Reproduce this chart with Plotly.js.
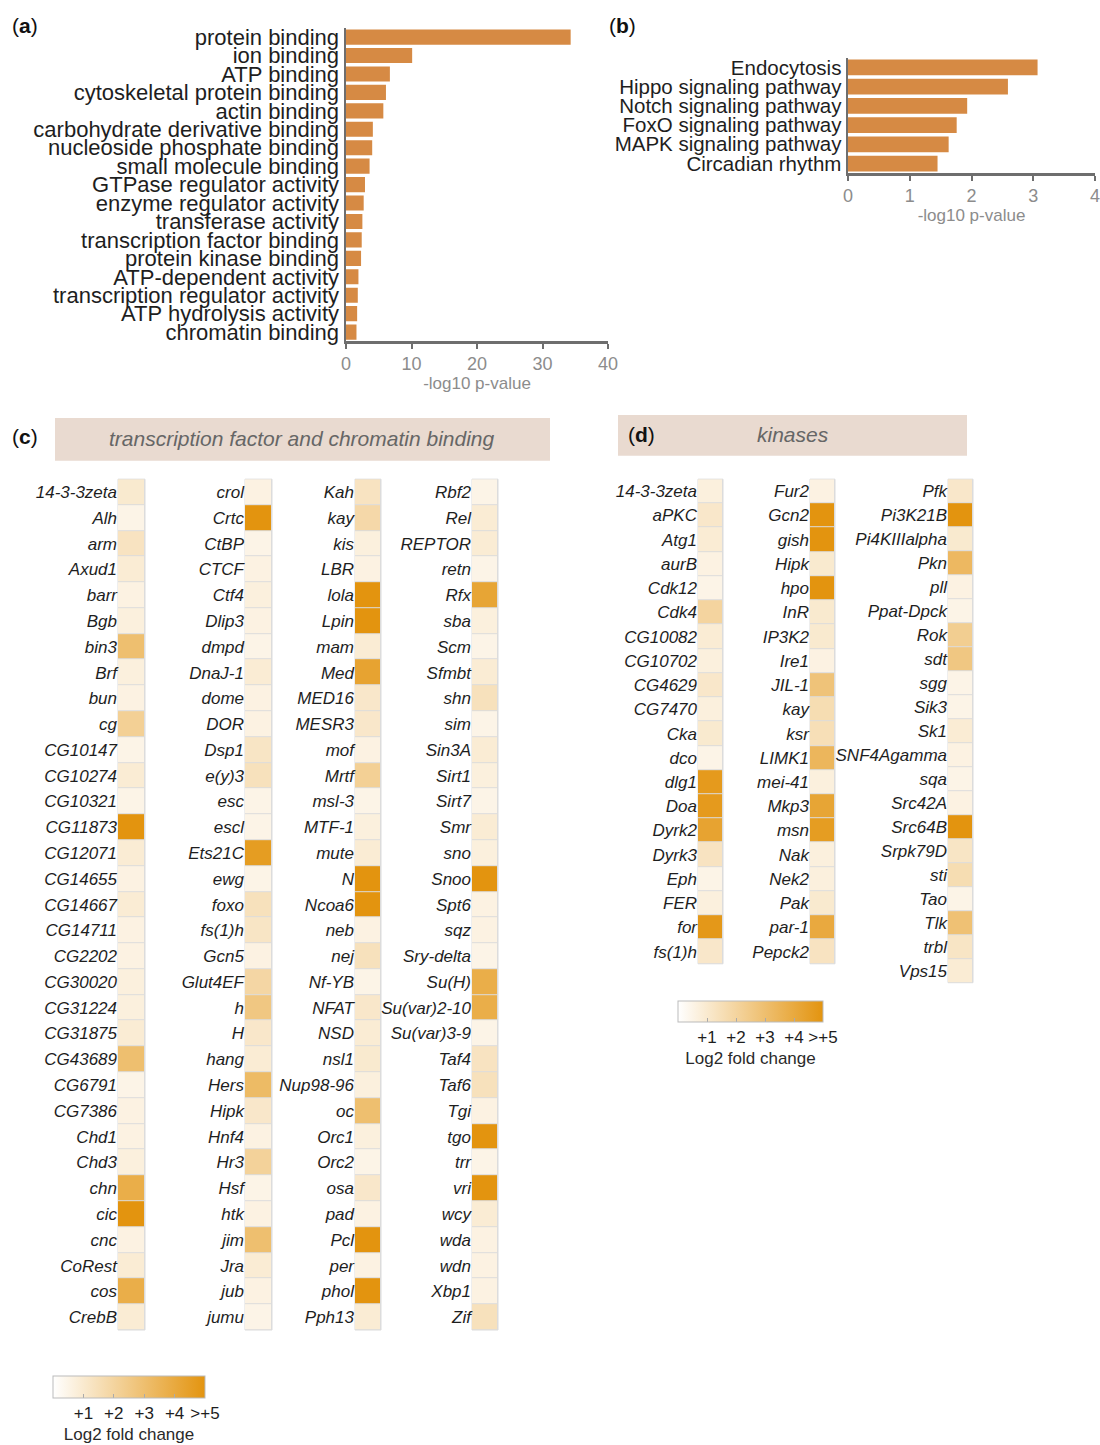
<!DOCTYPE html>
<html>
<head>
<meta charset="utf-8">
<script src="https://cdn.plot.ly/plotly-3.0.1.min.js"></script>
<style>html,body{margin:0;padding:0;background:#fff;}#chart{width:1100px;height:1445px;}</style>
</head>
<body>
<div id="chart"></div>
<script>
// ---------- DATA ----------
const goTerms = ["protein binding","ion binding","ATP binding","cytoskeletal protein binding","actin binding",
  "carbohydrate derivative binding","nucleoside phosphate binding","small molecule binding","GTPase regulator activity",
  "enzyme regulator activity","transferase activity","transcription factor binding","protein kinase binding",
  "ATP-dependent activity","transcription regulator activity","ATP hydrolysis activity","chromatin binding"];
const goValues = [34.3,10.1,6.7,6.1,5.7,4.1,4.0,3.6,2.9,2.7,2.5,2.4,2.3,1.9,1.8,1.7,1.6];

const keggTerms = ["Endocytosis","Hippo signaling pathway","Notch signaling pathway","FoxO signaling pathway",
  "MAPK signaling pathway","Circadian rhythm"];
const keggValues = [3.07,2.59,1.93,1.76,1.63,1.45];

const tfGenes1 = ["14-3-3zeta","Alh","arm","Axud1","barr","Bgb","bin3","Brf","bun","cg","CG10147","CG10274","CG10321",
  "CG11873","CG12071","CG14655","CG14667","CG14711","CG2202","CG30020","CG31224","CG31875","CG43689","CG6791","CG7386",
  "Chd1","Chd3","chn","cic","cnc","CoRest","cos","CrebB"];
const tfFC1 = [1.0,0.5,1.3,0.9,0.6,0.7,3.0,0.7,0.6,2.2,0.5,0.9,0.5,5,0.9,0.6,0.9,0.6,0.6,0.7,0.7,0.9,3.0,0.5,0.6,
  0.6,0.7,3.8,5,0.6,0.9,3.8,0.9];

const tfGenes2 = ["crol","Crtc","CtBP","CTCF","Ctf4","Dlip3","dmpd","DnaJ-1","dome","DOR","Dsp1","e(y)3","esc","escl",
  "Ets21C","ewg","foxo","fs(1)h","Gcn5","Glut4EF","h","H","hang","Hers","Hipk","Hnf4","Hr3","Hsf","htk","jim","Jra","jub","jumu"];
const tfFC2 = [0.6,5,0.5,0.6,0.7,0.6,0.5,0.9,0.6,0.6,1.2,1.4,0.5,0.5,4.6,0.5,1.4,1.2,0.6,1.9,2.6,1.1,0.9,3.2,1.1,
  0.6,2.1,0.5,0.6,3.0,0.9,0.6,0.5];

const tfGenes3 = ["Kah","kay","kis","LBR","lola","Lpin","mam","Med","MED16","MESR3","mof","Mrtf","msl-3","MTF-1","mute",
  "N","Ncoa6","neb","nej","Nf-YB","NFAT","NSD","nsl1","Nup98-96","oc","Orc1","Orc2","osa","pad","Pcl","per","phol","Pph13"];
const tfFC3 = [1.3,1.8,0.7,0.6,5,5,0.9,4.3,1.1,1.1,0.6,2.2,0.5,0.7,0.9,5,5,0.6,1.4,0.5,1.1,0.9,1.0,0.7,3.0,0.7,0.5,
  1.1,0.6,5,0.6,5,0.9];

const tfGenes4 = ["Rbf2","Rel","REPTOR","retn","Rfx","sba","Scm","Sfmbt","shn","sim","Sin3A","Sirt1","Sirt7","Smr","sno",
  "Snoo","Spt6","sqz","Sry-delta","Su(H)","Su(var)2-10","Su(var)3-9","Taf4","Taf6","Tgi","tgo","trr","vri","wcy","wda",
  "wdn","Xbp1","Zif"];
const tfFC4 = [0.5,0.9,0.9,0.5,4.2,0.7,0.5,0.9,1.4,0.5,0.9,0.7,0.5,0.9,0.7,5,0.6,0.6,0.5,3.8,3.8,0.5,1.3,1.4,0.6,5,
  0.5,5,0.9,0.6,0.6,0.6,1.4];

const kinGenes1 = ["14-3-3zeta","aPKC","Atg1","aurB","Cdk12","Cdk4","CG10082","CG10702","CG4629","CG7470","Cka","dco",
  "dlg1","Doa","Dyrk2","Dyrk3","Eph","FER","for","fs(1)h"];
const kinFC1 = [0.7,1.1,0.9,0.6,0.5,2.0,0.9,0.7,1.1,0.7,1.0,0.5,4.7,4.7,4.3,1.3,0.5,0.7,4.8,1.1];

const kinGenes2 = ["Fur2","Gcn2","gish","Hipk","hpo","InR","IP3K2","Ire1","JIL-1","kay","ksr","LIMK1","mei-41","Mkp3",
  "msn","Nak","Nek2","Pak","par-1","Pepck2"];
const kinFC2 = [0.6,5,5,1.0,5,1.0,1.0,0.6,2.8,1.6,1.5,3.4,0.7,4.2,4.6,0.7,0.7,1.0,4.0,1.3];

const kinGenes3 = ["Pfk","Pi3K21B","Pi4KIIIalpha","Pkn","pll","Ppat-Dpck","Rok","sdt","sgg","Sik3","Sk1","SNF4Agamma",
  "sqa","Src42A","Src64B","Srpk79D","sti","Tao","Tlk","trbl","Vps15"];
const kinFC3 = [1.1,5,1.0,3.3,0.6,0.5,2.3,2.6,0.5,0.5,0.9,0.6,0.5,0.6,5,1.2,1.6,0.5,2.9,1.2,0.9];

const fcTickVals = [1,2,3,4,5];
const fcTickText = ["+1","+2","+3","+4",">+5"];

// ---------- LAYOUT HELPERS ----------
const W = 1100, H = 1445;
const px = x => x / W;
const py = y => 1 - y / H;
const FONT = "Liberation Sans, Arial, Helvetica, sans-serif";
const BAR = "#d68a44";
const AXC = "#6e6e6e";
const GREY = "#8c8c8c";
const SCALE = [[0, "#ffffff"], [1, "#e3940f"]];

const traces = [];
const layout = {
  width: W, height: H,
  margin: {l: 0, r: 0, t: 0, b: 0},
  paper_bgcolor: "#ffffff", plot_bgcolor: "rgba(0,0,0,0)",
  showlegend: false,
  font: {family: FONT, color: "#1e1e1e"},
  shapes: [], annotations: []
};

// Panel a
traces.push({type: "bar", orientation: "h", x: goValues, y: goTerms, marker: {color: BAR},
  xaxis: "x", yaxis: "y", hoverinfo: "x+y"});
layout.xaxis = {domain: [px(346), px(608)], range: [0, 40], dtick: 10, showline: true, linecolor: AXC, linewidth: 2.5,
  ticks: "outside", ticklen: 5, tickcolor: AXC, tickwidth: 2, showgrid: false, zeroline: false,
  tickfont: {size: 18, color: GREY}, anchor: "y", ticklabeloverflow: "allow",
  title: {text: "-log10 p-value", font: {size: 17, color: GREY}, standoff: 0}};
layout.yaxis = {domain: [py(343), py(28)], type: "category", autorange: "reversed", showline: true, linecolor: AXC,
  linewidth: 2.5, ticks: "", showgrid: false, zeroline: false, tickfont: {size: 22, color: "#1e1e1e"}, anchor: "x",
  tickmode: "array", tickvals: goTerms, ticktext: goTerms};
layout.bargap = 0.18;

// Panel b
traces.push({type: "bar", orientation: "h", x: keggValues, y: keggTerms, marker: {color: BAR},
  xaxis: "x2", yaxis: "y2", hoverinfo: "x+y"});
layout.xaxis2 = {domain: [px(848), px(1095)], range: [0, 4], dtick: 1, showline: true, linecolor: AXC, linewidth: 2.5,
  ticks: "outside", ticklen: 5, tickcolor: AXC, tickwidth: 2, showgrid: false, zeroline: false,
  tickfont: {size: 18, color: GREY}, anchor: "y2", ticklabeloverflow: "allow",
  title: {text: "-log10 p-value", font: {size: 17, color: GREY}, standoff: 0}};
layout.yaxis2 = {domain: [py(174), py(58)], type: "category", autorange: "reversed", showline: true, linecolor: AXC,
  linewidth: 2.5, ticks: "", showgrid: false, zeroline: false, tickfont: {size: 20.5, color: "#1e1e1e"}, anchor: "x2",
  tickmode: "array", tickvals: keggTerms, ticktext: keggTerms};

// Heatmap columns
const cols = [
  {genes: tfGenes1, fc: tfFC1, x0: 118, x1: 145, y0: 481.5, y1: 1336.5, ca: "coloraxis"},
  {genes: tfGenes2, fc: tfFC2, x0: 245, x1: 272, y0: 481.5, y1: 1336.5, ca: "coloraxis"},
  {genes: tfGenes3, fc: tfFC3, x0: 355, x1: 381, y0: 481.5, y1: 1336.5, ca: "coloraxis"},
  {genes: tfGenes4, fc: tfFC4, x0: 472, x1: 498, y0: 481.5, y1: 1336.5, ca: "coloraxis"},
  {genes: kinGenes1, fc: kinFC1, x0: 698, x1: 723, y0: 481.5, y1: 968.5, ca: "coloraxis2"},
  {genes: kinGenes2, fc: kinFC2, x0: 810, x1: 835, y0: 481.5, y1: 968.5, ca: "coloraxis2"},
  {genes: kinGenes3, fc: kinFC3, x0: 948, x1: 973, y0: 481.5, y1: 987.5, ca: "coloraxis2"}
];
cols.forEach((c, i) => {
  const n = i + 3;
  traces.push({type: "heatmap", x: [0], y: c.genes, z: c.fc.map(v => [v]), coloraxis: c.ca,
    xaxis: "x" + n, yaxis: "y" + n, xgap: 1, ygap: 1, hovertemplate: "%{y}: %{z}<extra></extra>"});
  layout["xaxis" + n] = {domain: [px(c.x0), px(c.x1)], range: [-0.5, 0.5], showticklabels: false, showgrid: false,
    zeroline: false, showline: false, ticks: "", anchor: "y" + n, fixedrange: true};
  layout["yaxis" + n] = {domain: [py(c.y1), py(c.y0)], type: "category", autorange: "reversed", showgrid: false,
    zeroline: false, showline: false, ticks: "", anchor: "x" + n, fixedrange: true,
    tickmode: "array", tickvals: c.genes, ticktext: c.genes,
    tickfont: {size: 17, style: "italic", color: "#1e1e1e"}};
  layout.shapes.push({type: "rect", xref: "x" + n + " domain", yref: "y" + n + " domain", x0: 0, x1: 1, y0: 0, y1: 1,
    fillcolor: "#dcdcdc", line: {color: "#dcdcdc", width: 1}, layer: "below"});
});

const cbCommon = {orientation: "h", xanchor: "left", yanchor: "top", lenmode: "fraction", thicknessmode: "pixels",
  xpad: 0, ypad: 0, outlinewidth: 1, outlinecolor: "#bbbbbb",
  tickvals: fcTickVals, ticktext: fcTickText, ticks: "inside", ticklen: 4, tickcolor: "#aaaaaa",
  tickfont: {size: 17, color: "#1e1e1e"},
  title: {text: "Log2 fold change", side: "bottom", font: {size: 17, color: "#2a2a2a"}}};
layout.coloraxis = {cmin: 0, cmax: 5, colorscale: SCALE, colorbar: Object.assign({}, cbCommon,
  {x: px(53), y: py(1383), len: (205 - 53) / W, thickness: 22})};
layout.coloraxis2 = {cmin: 0, cmax: 5, colorscale: SCALE, colorbar: Object.assign({}, cbCommon,
  {x: px(678), y: py(1006), len: (823 - 678) / W, thickness: 21})};

// Header boxes
layout.shapes.push({type: "rect", xref: "paper", yref: "paper", x0: px(55), x1: px(550), y0: py(463), y1: py(420),
  fillcolor: "#e9dad0", line: {width: 0}, layer: "below"});
layout.shapes.push({type: "rect", xref: "paper", yref: "paper", x0: px(618), x1: px(967), y0: py(458), y1: py(417),
  fillcolor: "#e9dad0", line: {width: 0}, layer: "below"});

const ann = (text, x, y, opts) => Object.assign({text, x: px(x), y: py(y), xref: "paper", yref: "paper",
  showarrow: false, xanchor: "left", yanchor: "middle", font: {size: 21, color: "#111"}}, opts || {});
layout.annotations.push(ann("(<b>a</b>)", 10, 26));
layout.annotations.push(ann("(<b>b</b>)", 607, 26));
layout.annotations.push(ann("(<b>c</b>)", 10, 439));
layout.annotations.push(ann("(<b>d</b>)", 626, 437));
layout.annotations.push(ann("transcription factor and chromatin binding", 302, 441,
  {xanchor: "center", font: {size: 21, color: "#666", style: "italic"}}));
layout.annotations.push(ann("kinases", 793, 437,
  {xanchor: "center", font: {size: 21, color: "#666", style: "italic"}}));

Plotly.newPlot("chart", traces, layout, {staticPlot: true, displayModeBar: false});
</script>
</body>
</html>
